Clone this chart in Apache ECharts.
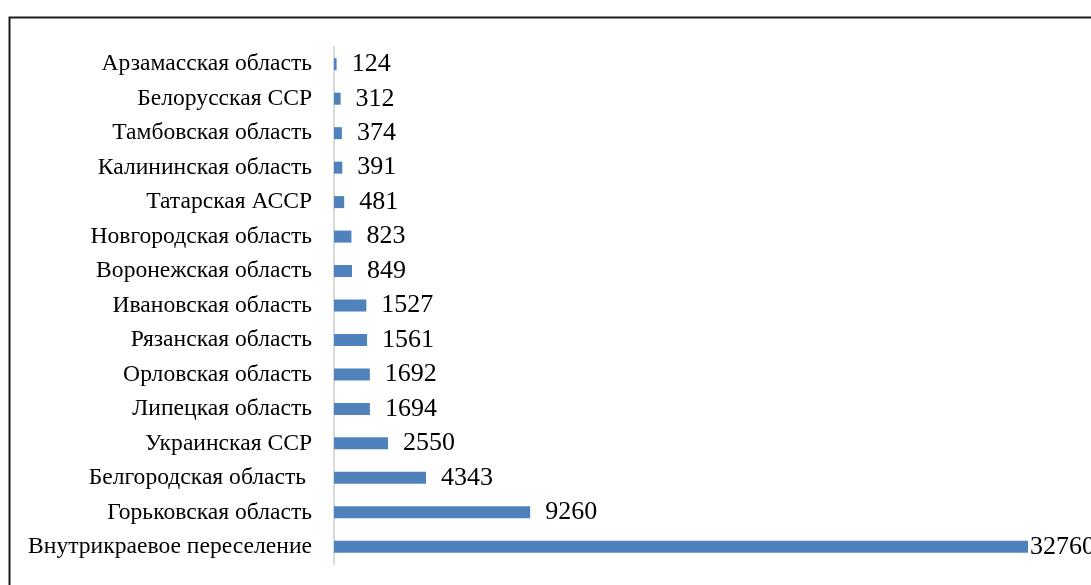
<!DOCTYPE html>
<html><head><meta charset="utf-8">
<script src="https://cdn.jsdelivr.net/npm/echarts@6/dist/echarts.min.js"></script>
<style>html,body{margin:0;padding:0;background:#fff;}#c{width:1091px;height:585px;}</style>
</head><body><div id="c"></div>
<script>
var categories = ["Внутрикраевое переселение","Горьковская область","Белгородская область ","Украинская ССР","Липецкая область","Орловская область","Рязанская область","Ивановская область","Воронежская область","Новгородская область","Татарская АССР","Калининская область","Тамбовская область","Белорусская ССР","Арзамасская область"];
var values = [32760,9260,4343,2550,1694,1692,1561,1527,849,823,481,391,374,312,124];

var chart = echarts.init(document.getElementById('c'), null, {renderer:'canvas'});
var data = values.map(function(v,i){
  var d = {value:v};
  if(i===0){ d.label = {distance:2}; }
  return d;
});
chart.setOption({
  animation:false,
  graphic:[{type:'rect', left:7, top:15, shape:{width:1200, height:700}, style:{fill:'none', stroke:'#1a1a1a', lineWidth:2}, silent:true}],
  grid:{left:334, right:63, top:47, bottom:21, containLabel:false},
  xAxis:{type:'value', min:0, max:32760, show:false},
  yAxis:{type:'category', data:categories,
    axisLine:{show:true, lineStyle:{color:'#d9d9d9', width:2}},
    axisTick:{show:false},
    axisLabel:{fontFamily:'Liberation Serif', fontSize:23.6, color:'#000', margin:22, padding:[5,0,0,0]}
  },
  series:[{type:'bar', data:data, barWidth:12, itemStyle:{color:'#4f81bd'},
    label:{show:true, position:'right', distance:15, fontFamily:'Liberation Serif', fontSize:26, color:'#000', padding:[5,0,0,0]}}]
});
</script></body></html>
